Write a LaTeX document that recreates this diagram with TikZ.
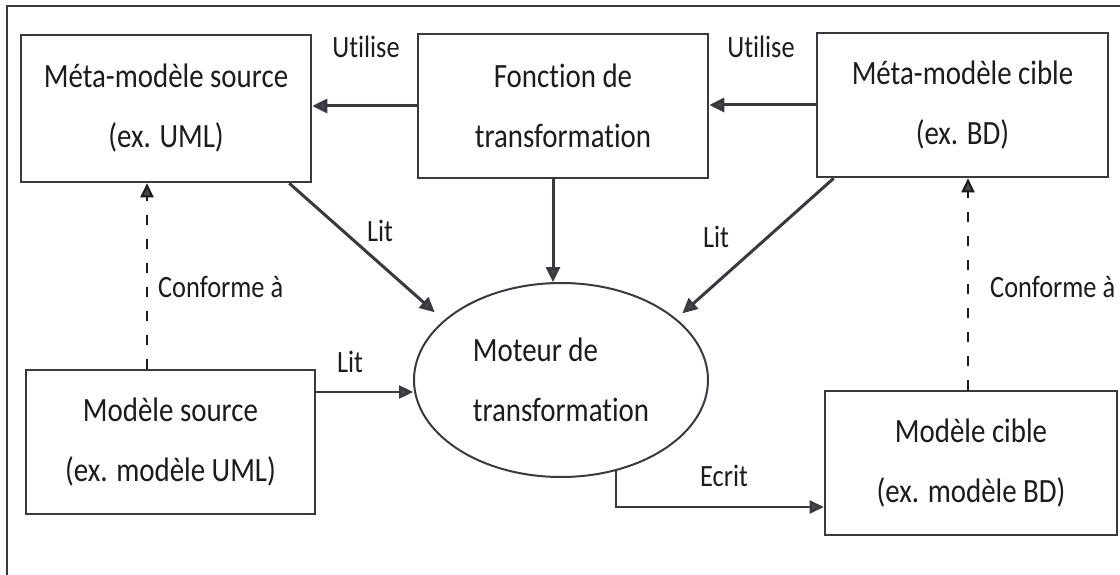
\documentclass[tikz,border=0pt]{standalone}
\usepackage{fontspec}
\usetikzlibrary{arrows.meta,shapes.geometric}
\newfontfamily\boxfont[FakeStretch=0.85,Ligatures=NoCommon]{Carlito}
\definecolor{ink}{HTML}{1C1C1E}
\definecolor{edge}{HTML}{3A3840}
\definecolor{tipc}{HTML}{4A4652}
\tikzset{
  box/.style={draw=edge, line width=2.6pt, fill=white, inner sep=0pt, align=center,
    text=ink, font=\boxfont\fontsize{34}{60}\selectfont},
  engine/.style={ellipse, draw=edge, line width=2pt, inner sep=0pt, align=left,
    text=ink, font=\boxfont\fontsize{34}{60}\selectfont},
  lbl/.style={text=ink, inner sep=0pt, font=\boxfont\fontsize{31}{36}\selectfont},
  arr/.style={draw=edge, line width=3pt,
    -{Triangle[length=15pt,width=14pt,fill=tipc]}},
  thinarr/.style={draw=edge, line width=2.4pt,
    -{Triangle[length=14pt,width=13pt,fill=tipc]}},
  confarr/.style={draw=ink, line width=2pt, dash pattern=on 10pt off 14pt,
    -{Triangle[length=14pt,width=13pt,fill=tipc]}},
}
\begin{document}
\begin{tikzpicture}[x=1pt,y=-1pt]
\useasboundingbox (0,0) rectangle (1120,575);
\fill[white] (0,0) rectangle (1120,575);

% outer frame (top and left edges)
\draw[edge, line width=2.6pt] (7,575) -- (7,6) -- (1120,6);

% meta-models and transformation function
\node[box, minimum width=290pt, minimum height=147pt] (msrc) at (166,108.5)
  {Méta-modèle source\\(ex. UML)};
\node[box, minimum width=290pt, minimum height=144pt] (fct) at (563,106)
  {Fonction de\\transformation};
\node[box, minimum width=291pt, minimum height=144pt] (mcib) at (962.5,105)
  {Méta-modèle cible\\(ex. BD)};

% models
\node[box, minimum width=289pt, minimum height=144pt] (mdsrc) at (170.5,442)
  {Modèle source\\(ex. modèle UML)};
\node[box, minimum width=292pt, minimum height=144pt] (mdcib) at (971,463)
  {Modèle cible\\(ex. modèle BD)};

% transformation engine
\node[engine, minimum width=294pt, minimum height=194pt] (moteur) at (561,380)
  {Moteur de\\transformation};

% "Utilise" arrows
\draw[arr] (fct.west) -- (fct.west -| msrc.east);
\draw[arr] (mcib.west) -- (mcib.west -| fct.east);
\node[lbl] (u1) at (366,47) {Utilise};
\node[lbl] (u2) at (761,47) {Utilise};

% function drives the engine
\draw[arr] ([xshift=-10pt]fct.south) -- ([xshift=-10pt]fct.south |- moteur.north);

% "Lit" arrows
\draw[arr, shorten >=12pt] ([xshift=-23pt]msrc.south east) -- (moteur.153);
\draw[arr, shorten >=8pt] ([xshift=18pt]mcib.south west) -- (moteur.28);
\draw[thinarr] ([yshift=50pt]mdsrc.east) -- ([yshift=50pt]mdsrc.east -| moteur.west);
\node[lbl] (l1) at (380,231) {Lit};
\node[lbl] (l2) at (716,237) {Lit};
\node[lbl] (l3) at (350,362) {Lit};

% "Ecrit" arrow
\draw[thinarr] (moteur.-59) |- ([yshift=-44pt]mdcib.west);
\node[lbl] (ec) at (724,476) {Ecrit};

% conformance links
\draw[confarr] ([xshift=-23.5pt]mdsrc.north) -- ([xshift=-23.5pt]mdsrc.north |- msrc.south);
\draw[confarr] ([xshift=-3pt]mdcib.north) -- ([xshift=-3pt]mdcib.north |- mcib.south);
\node[lbl, anchor=west] (c1) at (158,287) {Conforme à};
\node[lbl, anchor=west] (c2) at (990,287) {Conforme à};
\end{tikzpicture}
\end{document}
